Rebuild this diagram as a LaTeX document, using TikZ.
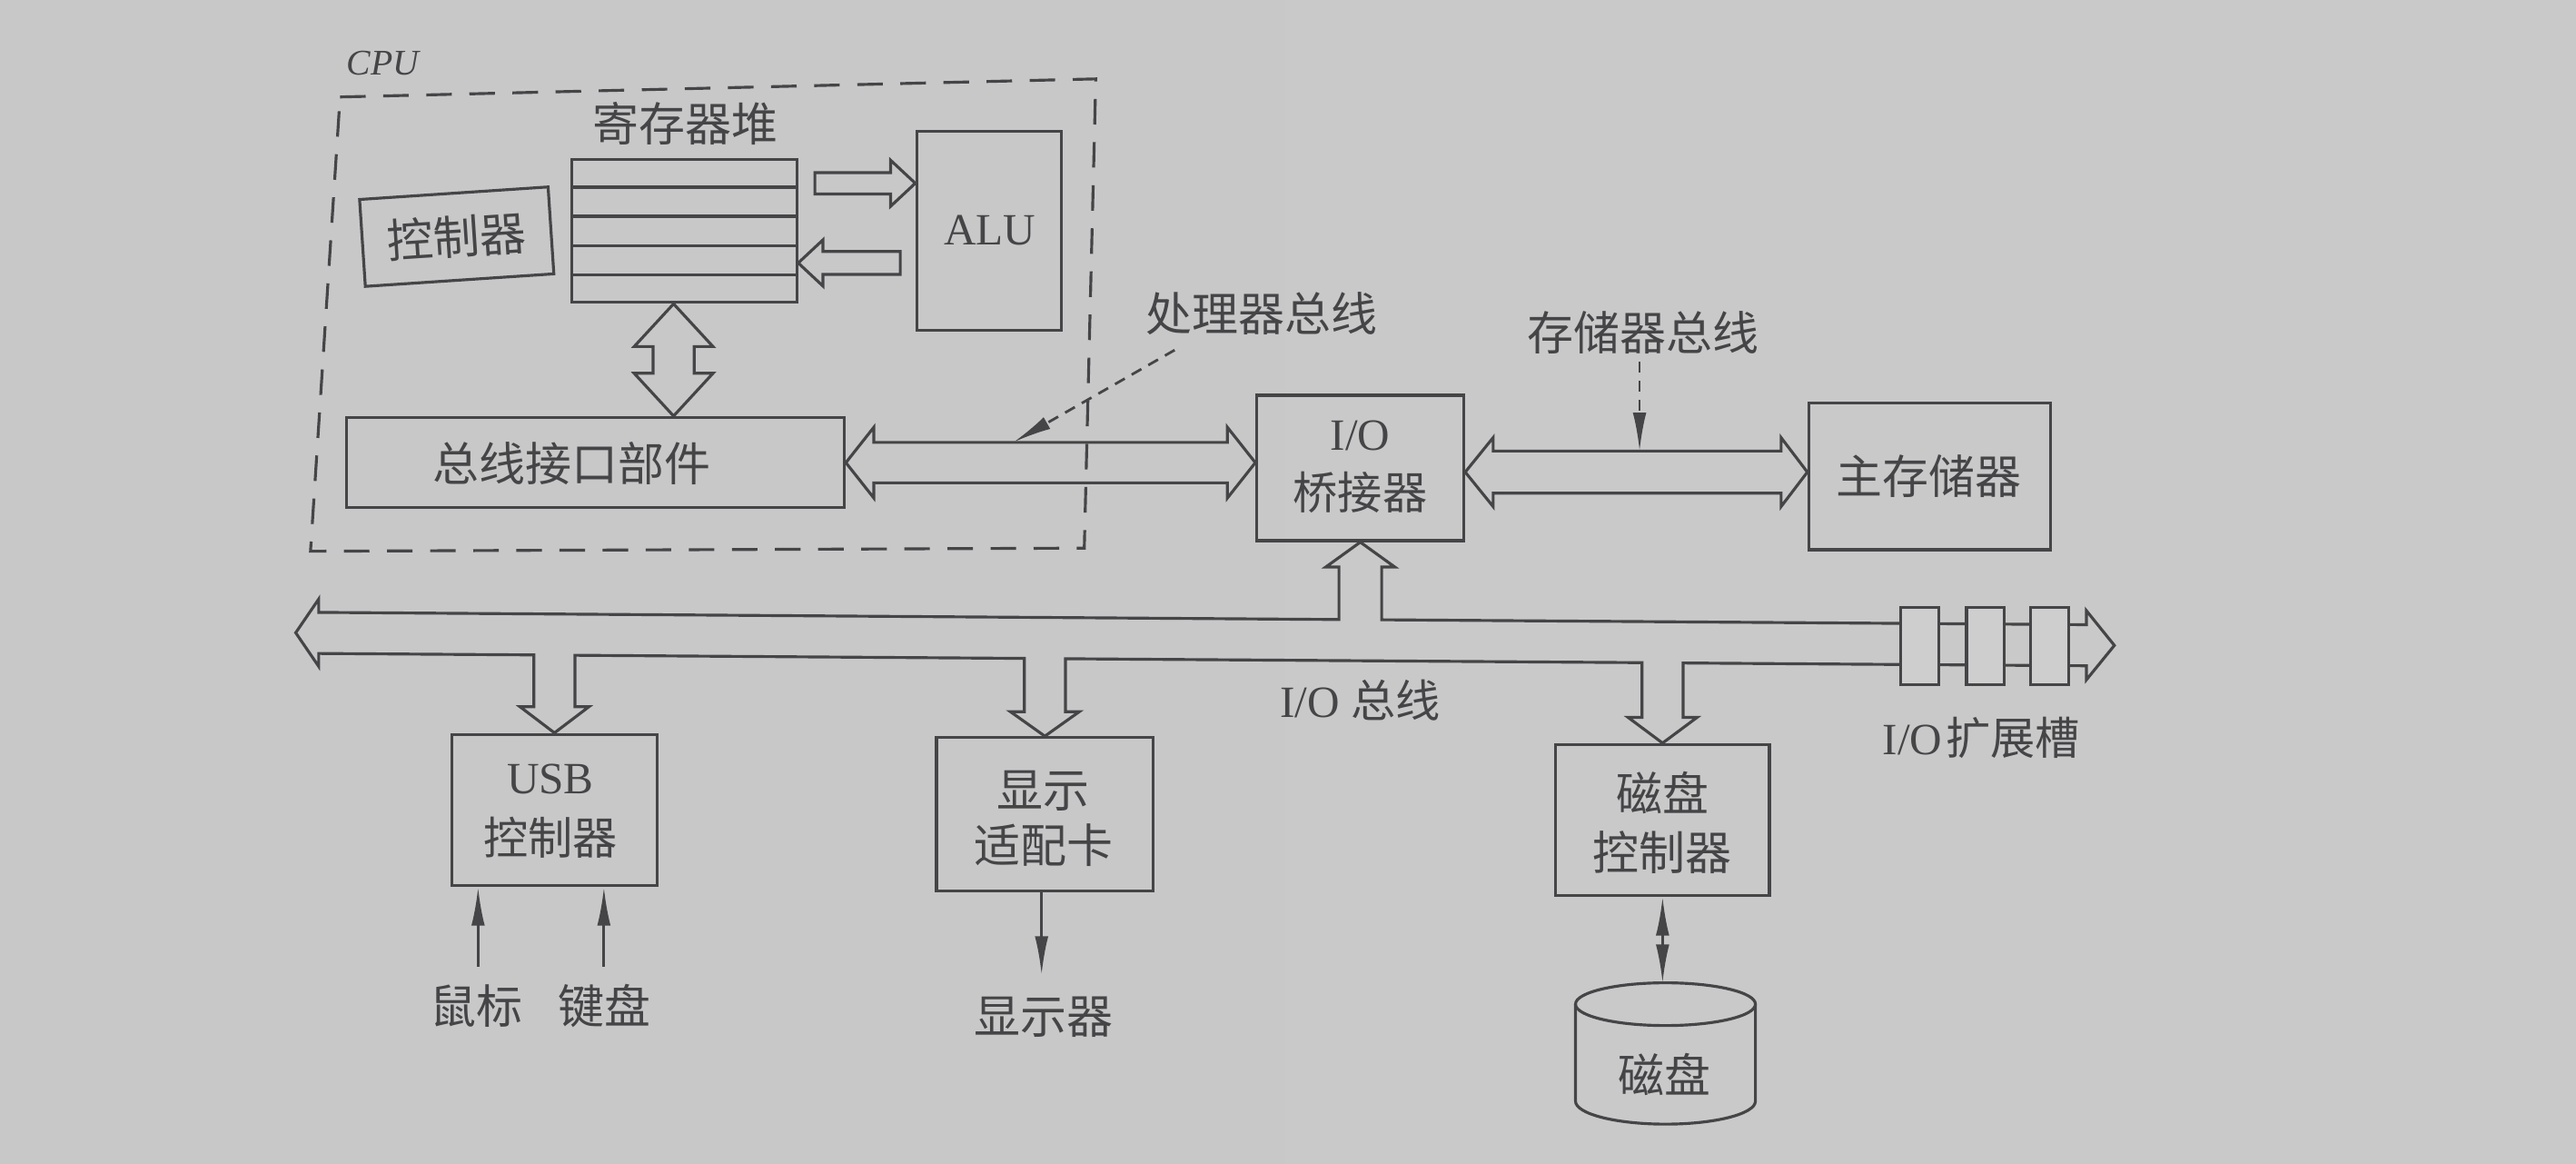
\documentclass[tikz,border=0pt]{standalone}
\usepackage{fontspec}
\setmainfont{Liberation Serif}
\newfontfamily\cjk{Noto Sans CJK SC}
\usetikzlibrary{calc,fit,arrows.meta}
\definecolor{ink}{HTML}{454547}
\definecolor{paperL}{HTML}{C8C8C9}
\definecolor{paperM}{HTML}{D5D5D6}
\definecolor{paperR}{HTML}{C9C9CA}
\definecolor{slotfill}{HTML}{CECECF}
\newdimen\unitpx \unitpx=0.018087cm
\tikzset{
  box/.style={draw=ink, line width=0.9pt, inner sep=0pt},
  fat/.style={draw=ink, line width=0.9pt, line join=miter},
  lbl/.style={text=ink, font=\cjk\fontsize{14.5}{18.5}\selectfont, inner sep=0pt, align=center},
  lat/.style={text=ink, font=\fontsize{14}{18.5}\selectfont, inner sep=0pt, align=center},
  thinarr/.style={draw=ink, line width=0.8pt, -{Latex[length=12pt,width=4.2pt]}},
  dasharr/.style={thinarr, dash pattern=on 3.5pt off 2.5pt},
  cpubox/.style={draw=ink, line width=0.9pt, dash pattern=on 8pt off 5.5pt},
}
\begin{document}
\begin{tikzpicture}[x=0.018087cm, y=-0.018087cm]
% paper
\shade[left color=paperL, middle color=paperM, right color=paperR] (0,0) rectangle (1568,707.7);

% CPU region
\coordinate (cpuTL) at (207,59);
\coordinate (cpuTR) at (667,48);
\coordinate (cpuBR) at (660,333.5);
\coordinate (cpuBL) at (189,335.4);
\draw[cpubox] (cpuTL) -- (cpuTR) -- (cpuBR) -- (cpuBL) -- cycle;
\node[lat, font=\itshape\fontsize{11.3}{13}\selectfont] (cpulbl) at (233,38.5) {CPU};

% register file
\node[lbl] (reglbl) at (417,75) {寄存器堆};
\node[box, fit={(348,97) (485,184)}] (reg) {};
\foreach \k in {0.2,0.4,0.6,0.8}
  \draw[draw=ink, line width=0.9pt] ($(reg.north west)!\k!(reg.south west)$) -- ($(reg.north east)!\k!(reg.south east)$);

% ALU, controller
\node[box, fit={(558,80) (646,201)}] (alu) {};
\node[lat] (alutext) at (602.5,140) {ALU};
\node[box, lbl, rotate=3.8, minimum width=115*\unitpx, minimum height=53*\unitpx] (ctrl) at (278,144) {控制器};

% bus interface
\node[box, fit={(211,254) (514,309)}] (biu) {};
\node[lbl] (biutext) at (348,282) {总线接口部件};

% bridge, memory
\node[box, fit={(765,240.5) (891,329)}] (bridge) {};
\node[lat] (bridgetext) at (828,284) {I/O\\{\cjk 桥接器}};
\node[box, fit={(1101,245) (1248,334.5)}] (mem) {};
\node[lbl] (memtext) at (1174,290) {主存储器};

% I/O devices
\node[box, fit={(275,446.8) (400,539)}] (usb) {};
\node[lat, font=\fontsize{14}{19}\selectfont] (usbtext) at (335,493.5) {USB\\{\cjk 控制器}};
\node[box, fit={(570,448.8) (702,542)}] (disp) {};
\node[lbl, font=\cjk\fontsize{14.5}{17.5}\selectfont] (disptext) at (635,498) {显示\\适配卡};
\node[box, fit={(947,453) (1077,545)}] (dctl) {};
\node[lbl] (dctltext) at (1012,500.5) {磁盘\\控制器};

% labels
\node[lbl] (pblbl) at (768,191) {处理器总线};
\node[lbl] (mblbl) at (1000,202.5) {存储器总线};
\node[lat] (iobuslbl) at (828,426) {I/O\ {\cjk 总线}};
\node[lat] (slotlbl) at (1206,448.7) {I/O\kern1pt{\cjk 扩展槽}};
\node[lbl] (mouse) at (290,612) {鼠标};
\node[lbl] (kbd) at (368,612) {键盘};
\node[lbl] (mon) at (635,619) {显示器};

% register -> ALU
\coordinate (r2a) at (496,111.5);
\coordinate (r2aT) at (alu.west |- r2a);
\draw[fat] ($(r2a)+(0,-6.5)$) -- ($(r2aT)+(-15,-6.5)$) -- ($(r2aT)+(-15,-14)$) -- (r2aT)
  -- ($(r2aT)+(-15,14)$) -- ($(r2aT)+(-15,6.5)$) -- ($(r2a)+(0,6.5)$) -- cycle;
% ALU -> register
\coordinate (a2r) at (548,160);
\coordinate (a2rT) at (reg.east |- a2r);
\draw[fat] ($(a2r)+(0,-7)$) -- ($(a2rT)+(15,-7)$) -- ($(a2rT)+(15,-14)$) -- (a2rT)
  -- ($(a2rT)+(15,14)$) -- ($(a2rT)+(15,7)$) -- ($(a2r)+(0,7)$) -- cycle;

% register <-> bus interface
\coordinate (vx) at (410,0);
\coordinate (vA) at (reg.south -| vx);
\coordinate (vB) at (biu.north -| vx);
\draw[fat] (vA) -- ($(vA)+(24,26)$) -- ($(vA)+(12.5,26)$) -- ($(vB)+(12.5,-26)$) -- ($(vB)+(24,-26)$) -- (vB)
  -- ($(vB)+(-24,-26)$) -- ($(vB)+(-12.5,-26)$) -- ($(vA)+(-12.5,26)$) -- ($(vA)+(-24,26)$) -- cycle;

% processor bus
\coordinate (pA) at (biu.east);
\coordinate (pB) at (bridge.west |- biu.east);
\draw[fat] (pA) -- ($(pA)+(17,-21.5)$) -- ($(pA)+(17,-12.3)$) -- ($(pB)+(-17,-12.3)$) -- ($(pB)+(-17,-21.5)$) -- (pB)
  -- ($(pB)+(-17,21.5)$) -- ($(pB)+(-17,12.3)$) -- ($(pA)+(17,12.3)$) -- ($(pA)+(17,21.5)$) -- cycle;

% memory bus
\coordinate (mA) at ($(bridge.east)+(0,2.5)$);
\coordinate (mB) at (mem.west |- mA);
\draw[fat] (mA) -- ($(mA)+(17,-21)$) -- ($(mA)+(17,-12.8)$) -- ($(mB)+(-16,-12.8)$) -- ($(mB)+(-16,-21)$) -- (mB)
  -- ($(mB)+(-16,21)$) -- ($(mB)+(-16,12.8)$) -- ($(mA)+(17,12.8)$) -- ($(mA)+(17,21)$) -- cycle;

% I/O bus with branches
\coordinate (ioL) at (180,385);
\coordinate (ioR) at (1287,392.7);
\draw[fat] (ioL) -- (194,364.5) -- (194,372.6)
  -- (815,376.95) -- (815,345) -- (807,345) -- (bridge.south) -- (849,345) -- (841,345) -- (841,377.1)
  -- (1270,380.1) -- (1270,371.6) -- (ioR) -- (1270,413.6) -- (1270,405.1)
  -- (1024.5,403.4) -- (1024.5,436.5) -- (1033,436.5) -- (dctl.north) -- (991,436.5) -- (999.5,436.5) -- (999.5,403.2)
  -- (648.5,400.8) -- (648.5,433) -- (657,433) -- (disp.north) -- (615,433) -- (623.5,433) -- (623.5,400.6)
  -- (350,398.7) -- (350,430) -- (358.5,430) -- (usb.north) -- (316.5,430) -- (325,430) -- (325,398.5)
  -- (194,397.6) -- (194,405.5) -- cycle;
% expansion slots
\node[box, fill=slotfill, fit={(1157,369.5) (1180,416.5)}] (slot1) {};
\node[box, fill=slotfill, fit={(1197,369.5) (1220,416.5)}] (slot2) {};
\node[box, fill=slotfill, fit={(1236,369.5) (1259,416.5)}] (slot3) {};

% label pointers
\coordinate (pbfrom) at (715,213);
\coordinate (pbto) at (617,269);
\draw[dasharr] (pbfrom) -- (pbto);
\coordinate (mbfrom) at (998,220);
\coordinate (mbto) at ($(mA)+(108,-12.8)$);
\draw[dasharr] (mbfrom) -- (mbfrom |- mbto);

% peripherals
\coordinate (mouseout) at (291,588);
\coordinate (kbdout) at (367.6,588);
\draw[thinarr] (mouseout) -- (mouseout |- usb.south);
\draw[thinarr] (kbdout) -- (kbdout |- usb.south);
\coordinate (monin) at (634,593);
\draw[thinarr] (disp.south -| monin) -- (monin);

% disk
\coordinate (disktop) at (1013.75,598);
\draw[thinarr, {Latex[length=12pt,width=4.2pt]}-{Latex[length=12pt,width=4.2pt]}] (dctl.south) -- (dctl.south |- disktop);
\draw[draw=ink, line width=0.9pt] (959,611) -- (959,670) arc[start angle=180, end angle=360, x radius=28.17pt, y radius=7.2pt] -- (1068.5,611);
\draw[draw=ink, line width=0.9pt] (1013.75,611) ellipse [x radius=28.17pt, y radius=6.69pt];
\node[lbl] (disk) at (1013,654) {磁盘};
\end{tikzpicture}
\end{document}
